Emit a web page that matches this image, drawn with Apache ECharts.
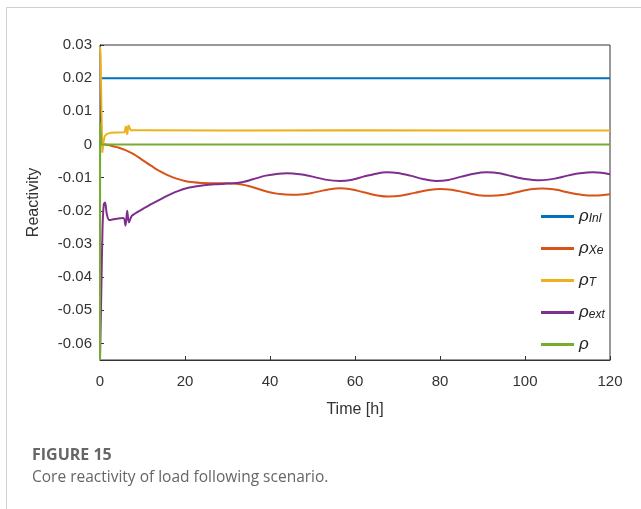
<!DOCTYPE html>
<html>
<head>
<meta charset="utf-8">
<script src="https://cdn.jsdelivr.net/npm/echarts@6/dist/echarts.min.js"></script>
<style>
  html, body { margin: 0; padding: 0; background: #fff; }
  #chart { width: 641px; height: 509px; }
</style>
</head>
<body>
<div id="chart"></div>
<script>
// 时间刻度 / 纵轴刻度
var xTicks = [0, 20, 40, 60, 80, 100, 120];
var yTicks = [-0.06, -0.05, -0.04, -0.03, -0.02, -0.01, 0, 0.01, 0.02, 0.03];

// [t(h), reactivity] 读图取值
var rhoIni = [[0, 0.02], [120, 0.02]];

var rhoXe = [
  [0, 0], [1, 0], [2, -0.0002], [4, -0.0008], [6, -0.0017], [8, -0.003],
  [10, -0.0047], [12, -0.0064], [14, -0.008], [16, -0.0093], [18, -0.0103],
  [20, -0.011], [22, -0.0114], [24, -0.0116], [27, -0.0117], [30, -0.0117],
  [33, -0.012], [36, -0.0129], [39, -0.0141], [42, -0.0149], [45, -0.0152],
  [48, -0.015], [51, -0.0143], [54, -0.0135], [56.5, -0.0132], [59, -0.0135],
  [62, -0.0144], [65, -0.0153], [68, -0.0157], [71, -0.0154], [74, -0.0146],
  [77, -0.0138], [80, -0.0134], [83, -0.0137], [86, -0.0145], [89, -0.0153],
  [92, -0.0155], [95, -0.0152], [98, -0.0144], [101, -0.0136], [104, -0.0133],
  [107, -0.0136], [110, -0.0144], [113, -0.0151], [116, -0.0154],
  [118, -0.0153], [120, -0.015]
];

var rhoT = [
  [0, 0.0295], [0.15, 0.027], [0.35, 0.01], [0.55, -0.0025], [0.8, 0.0005],
  [1.1, 0.0025], [1.6, 0.0032], [2.5, 0.0035], [4, 0.0036], [5.8, 0.0037],
  [6.1, 0.0055], [6.4, 0.003], [6.7, 0.0058], [7.2, 0.0043], [10, 0.0043],
  [30, 0.0042], [60, 0.0043], [90, 0.0042], [120, 0.0042]
];

var rhoExt = [
  [0, -0.065], [0.3, -0.045], [0.6, -0.025], [0.9, -0.018], [1.2, -0.0175],
  [1.6, -0.021], [2.2, -0.0228], [3.5, -0.0225], [5.5, -0.0222],
  [6.0, -0.0245], [6.4, -0.02], [6.8, -0.0235], [7.5, -0.0215],
  [10, -0.0195], [12.5, -0.0177], [15, -0.016], [18, -0.0142], [21, -0.013],
  [24, -0.0124], [27, -0.012], [30, -0.0118], [33, -0.0115], [36, -0.0105],
  [39, -0.0094], [42, -0.0088], [44, -0.0087], [47, -0.009], [50, -0.0097],
  [53, -0.0106], [56.5, -0.011], [59, -0.0107], [62, -0.0097], [65, -0.0088],
  [67.5, -0.0084], [70, -0.0086], [73, -0.0094], [76, -0.0104], [79, -0.011],
  [82, -0.0107], [85, -0.0097], [88, -0.0088], [91, -0.0084], [94, -0.0087],
  [97, -0.0096], [100, -0.0104], [103.5, -0.0108], [107, -0.0103],
  [110, -0.0094], [113, -0.0087], [116, -0.0084], [118, -0.0085], [120, -0.009]
];

var rhoTotal = [[0, -0.065], [0.03, 0.0065], [0.3, 0], [120, 0]];

// 图例下标
var legendSub = { "ρInl": "Inl", "ρXe": "Xe", "ρT": "T", "ρext": "ext", "ρ": " " };

var chart = echarts.init(document.getElementById("chart"));

var axisColor = "#333";
var font = '"Liberation Sans", Arial, sans-serif';

function fmtY(v) {
  var n = parseFloat(Number(v).toFixed(2));
  return n === 0 ? "0" : String(n);
}

function lineSeries(name, data, color, smooth) {
  return {
    name: name,
    type: "line",
    data: data,
    showSymbol: false,
    symbol: "none",
    smooth: smooth,
    lineStyle: { color: color, width: 2 },
    itemStyle: { color: color },
    animation: false
  };
}

var option = {
  animation: false,
  // 用 grid 边框画出 MATLAB 式的外框
  grid: {
    left: 100, top: 45, right: 31, bottom: 149,
    show: true, borderColor: axisColor, borderWidth: 1, backgroundColor: "transparent"
  },
  legend: {
    orient: "vertical",
    left: 536,
    top: 203,
    itemWidth: 33,
    itemHeight: 3,
    itemGap: 9,
    icon: "rect",
    data: ["ρInl", "ρXe", "ρT", "ρext", "ρ"],
    formatter: function (name) {
      return "{r|ρ}{s|" + legendSub[name] + "}";
    },
    textStyle: {
      rich: {
        r: { fontSize: 17, fontStyle: "italic", fontFamily: font, color: "#222", verticalAlign: "top", lineHeight: 17, padding: [0, 0, 6, 0] },
        s: { fontSize: 12, fontStyle: "italic", fontFamily: font, color: "#222", verticalAlign: "bottom", lineHeight: 13 }
      }
    }
  },
  xAxis: {
    type: "value",
    min: 0,
    max: 120,
    interval: 20,
    name: "Time [h]",
    nameLocation: "middle",
    nameGap: 42,
    nameTextStyle: { fontSize: 16, color: axisColor, fontFamily: font },
    axisLine: { show: true, onZero: false, lineStyle: { color: axisColor, width: 1 } },
    axisTick: { show: true, inside: true, length: 4, lineStyle: { color: axisColor } },
    axisLabel: { fontSize: 15, color: axisColor, fontFamily: font, margin: 14 },
    splitLine: { show: false }
  },
  yAxis: {
    type: "value",
    min: -0.065,
    max: 0.03,
    name: "Reactivity",
    nameLocation: "middle",
    nameGap: 58,
    nameTextStyle: { fontSize: 16, color: axisColor, fontFamily: font },
    axisLine: { show: true, onZero: false, lineStyle: { color: axisColor, width: 1 } },
    axisTick: { show: true, inside: true, length: 4, customValues: yTicks, lineStyle: { color: axisColor } },
    axisLabel: { fontSize: 15, color: axisColor, fontFamily: font, margin: 8, customValues: yTicks, formatter: fmtY },
    splitLine: { show: false }
  },
  series: [
    lineSeries("ρInl", rhoIni, "#0072BD", false),
    lineSeries("ρXe", rhoXe, "#D95319", 0.5),
    lineSeries("ρT", rhoT, "#EDB120", false),
    lineSeries("ρext", rhoExt, "#7E2F8E", 0.3),
    lineSeries("ρ", rhoTotal, "#77AC30", false)
  ],
  graphic: [
    // 外框线
    { type: "line", shape: { x1: 6, y1: 7.5, x2: 641, y2: 7.5 }, style: { stroke: "#d0d0d0", lineWidth: 1 } },
    { type: "line", shape: { x1: 6.5, y1: 7, x2: 6.5, y2: 509 }, style: { stroke: "#d0d0d0", lineWidth: 1 } },
    {
      type: "text", left: 32, top: 447,
      style: { text: "FIGURE 15", font: 'bold 16px "Open Sans", "Noto Sans", sans-serif', fill: "#666" }
    },
    {
      type: "text", left: 32, top: 470,
      style: { text: "Core reactivity of load following scenario.", font: '15.5px "Open Sans", "Noto Sans", sans-serif', fill: "#666" }
    }
  ]
};

chart.setOption(option);
</script>
</body>
</html>
